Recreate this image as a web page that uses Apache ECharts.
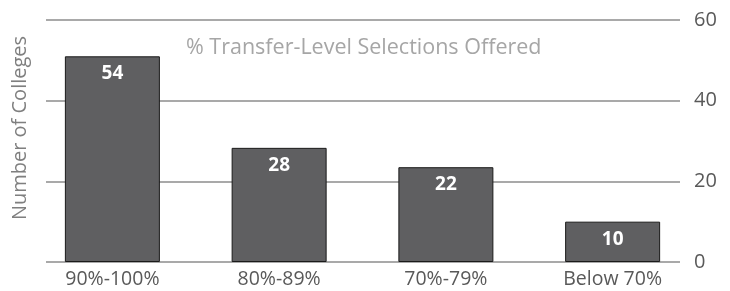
<!DOCTYPE html>
<html>
<head>
<meta charset="utf-8">
<script src="https://cdn.jsdelivr.net/npm/echarts@6/dist/echarts.min.js"></script>
<style>
  html, body { margin: 0; padding: 0; background: #fff; }
  #chart { width: 730px; height: 291px; }
</style>
</head>
<body>
<div id="chart"></div>
<script>
// data
const categories = ["90%-100%", "80%-89%", "70%-79%", "Below 70%"];
// bar heights as drawn
const barValues = [51, 28.3, 23.5, 10];
// the numbers printed inside the bars
const barLabels = ["54", "28", "22", "10"];
const yTicks = [0, 20, 40, 60];

const font = "'Open Sans', 'DejaVu Sans', sans-serif";

const myChart = echarts.init(document.getElementById("chart"));

const option = {
  animation: false,
  title: {
    text: "% Transfer-Level Selections Offered",
    left: 181,
    top: 32,
    textStyle: {
      fontFamily: font,
      fontSize: 21.5,
      fontWeight: "normal",
      color: "#a6a6a6",
    },
  },
  graphic: [
    {
      type: "text",
      x: 20,
      y: 128,
      rotation: Math.PI / 2,
      style: {
        text: "Number of Colleges",
        font: "20px " + font,
        fill: "#7f7f7f",
        align: "center",
        verticalAlign: "middle",
      },
    },
  ],
  grid: [
    // bars
    { left: 29, right: 34, top: 20, bottom: 29 },
    // gridlines and tick labels
    { left: 46, right: 50, top: 20, bottom: 29 },
  ],
  xAxis: [
    {
      type: "category",
      gridIndex: 0,
      data: categories,
      axisLine: { show: false },
      axisTick: { show: false },
      axisLabel: {
        margin: 7,
        fontFamily: font,
        fontSize: 19.5,
        color: "#595959",
      },
    },
    {
      type: "value",
      gridIndex: 1,
      show: false,
    },
  ],
  yAxis: [
    {
      type: "value",
      gridIndex: 0,
      min: yTicks[0],
      max: yTicks[yTicks.length - 1],
      show: false,
    },
    {
      type: "value",
      gridIndex: 1,
      position: "right",
      min: yTicks[0],
      max: yTicks[yTicks.length - 1],
      interval: yTicks[1] - yTicks[0],
      axisLine: { show: false },
      axisTick: { show: false },
      axisLabel: {
        margin: 14,
        fontFamily: font,
        fontSize: 20,
        color: "#595959",
      },
      splitLine: {
        lineStyle: { color: "#8c8c8c", width: 1.5 },
      },
    },
  ],
  series: [
    {
      type: "bar",
      xAxisIndex: 0,
      yAxisIndex: 0,
      data: barValues,
      barWidth: 95,
      itemStyle: {
        color: "#5f5f61",
        borderColor: "#1a1a1a",
        borderWidth: 1,
      },
      label: {
        show: true,
        position: "insideTop",
        distance: 8,
        formatter: (p) => barLabels[p.dataIndex],
        fontFamily: font,
        fontSize: 19,
        fontWeight: "bold",
        color: "#ffffff",
      },
    },
  ],
};

myChart.setOption(option, true);
</script>
</body>
</html>
